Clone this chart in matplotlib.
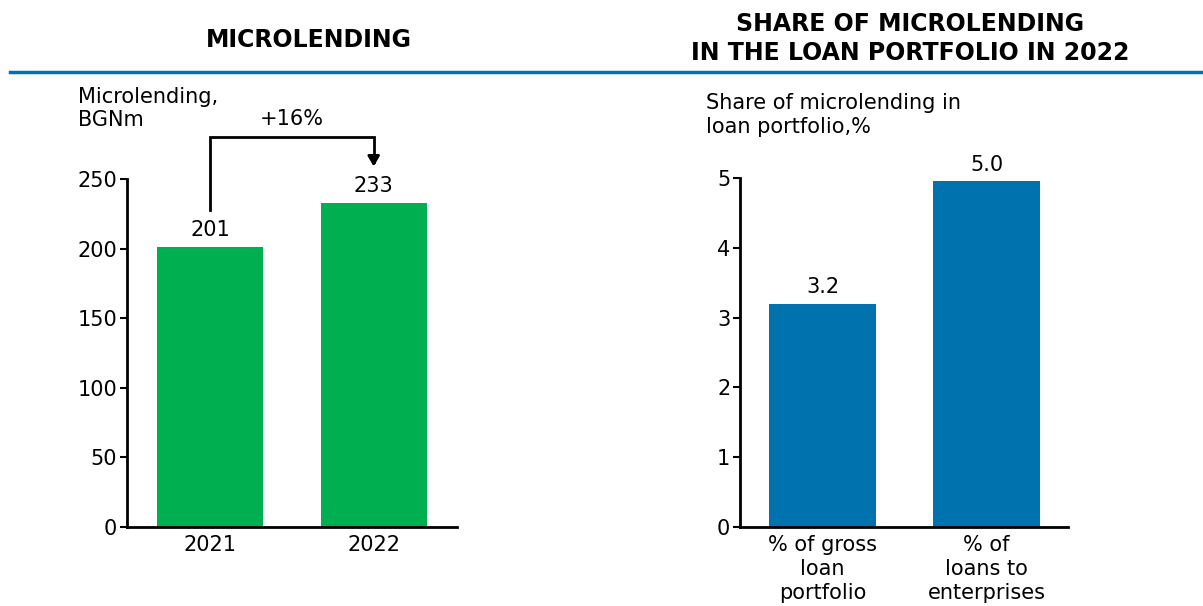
import matplotlib
matplotlib.use("Agg")
import matplotlib.pyplot as plt
from matplotlib.lines import Line2D

plt.rcParams['font.family'] = ['DejaVu Sans']

# Data
years = ["2021", "2022"]
microlending = [201, 233]
micro_labels = ["201", "233"]
growth_label = "+16%"

share_cats = ["% of gross\nloan\nportfolio", "% of\nloans to\nenterprises"]
share_vals = [3.2, 4.95]
share_labels = ["3.2", "5.0"]

GREEN = "#00b050"
BLUE = "#0073ae"
LINE_BLUE = "#0070b8"

W, H = 1203, 606
fig = plt.figure(figsize=(W / 100, H / 100), dpi=100)

def px_axes(x0, y_top, x1, y_bot):
    return fig.add_axes([x0 / W, (H - y_bot) / H, (x1 - x0) / W, (y_bot - y_top) / H])

# Titles and divider
fig.text(309 / W, 1 - 40 / H, "MICROLENDING", ha="center", va="center",
         fontsize=17, fontweight="bold")
fig.text(910 / W, 1 - 38.5 / H, "SHARE OF MICROLENDING\nIN THE LOAN PORTFOLIO IN 2022",
         ha="center", va="center", fontsize=17, fontweight="bold", linespacing=1.28)
fig.add_artist(Line2D([10 / W, 1.0], [1 - 72 / H, 1 - 72 / H], color=LINE_BLUE, lw=2.5,
                      transform=fig.transFigure))

fs = 15

# Left chart
ax1 = px_axes(127, 179, 457, 527)
x1 = list(range(len(years)))
ax1.bar(x1, microlending, width=0.65, color=GREEN)
ax1.set_xlim(-0.51, 1.51)
ax1.set_ylim(0, 250)
ax1.set_yticks([0, 50, 100, 150, 200, 250])
ax1.set_xticks(x1)
ax1.set_xticklabels(years)
for xi, v, lab in zip(x1, microlending, micro_labels):
    ax1.annotate(lab, (xi, v), xytext=(0, 5), textcoords="offset points",
                 ha="center", va="bottom", fontsize=fs)
fig.text(78 / W, 1 - 108.5 / H, "Microlending,\nBGNm", ha="left", va="center",
         fontsize=fs, linespacing=1.15)
# growth bracket
ax1.plot([0, 0, 1, 1], [228, 280, 280, 262], color="black", lw=2, clip_on=False,
         solid_joinstyle="miter")
ax1.annotate("", xy=(1, 257), xytext=(1, 266),
             arrowprops=dict(arrowstyle="-|>,head_width=0.35,head_length=0.6",
                             color="black", lw=2), annotation_clip=False)
ax1.text(0.5, 286, growth_label, ha="center", va="bottom", fontsize=fs, clip_on=False)

# Right chart
ax2 = px_axes(740, 178, 1068, 527)
x2 = list(range(len(share_cats)))
ax2.bar(x2, share_vals, width=0.65, color=BLUE)
ax2.set_xlim(-0.503, 1.497)
ax2.set_ylim(0, 5)
ax2.set_yticks([0, 1, 2, 3, 4, 5])
ax2.set_xticks(x2)
ax2.set_xticklabels(share_cats, linespacing=1.25)
for xi, v, lab in zip(x2, share_vals, share_labels):
    ax2.annotate(lab, (xi, v), xytext=(0, 5), textcoords="offset points",
                 ha="center", va="bottom", fontsize=fs)
fig.text(706 / W, 1 - 115.5 / H, "Share of microlending in\nloan portfolio,%", ha="left",
         va="center", fontsize=fs, linespacing=1.25)

for ax in (ax1, ax2):
    for s in ("top", "right"):
        ax.spines[s].set_visible(False)
    for s in ("left", "bottom"):
        ax.spines[s].set_linewidth(2)
    ax.tick_params(axis="y", length=5, width=1.5, labelsize=fs, pad=2)
    ax.tick_params(axis="x", length=0, labelsize=fs, pad=6)

fig.savefig("out.png", dpi=100)
